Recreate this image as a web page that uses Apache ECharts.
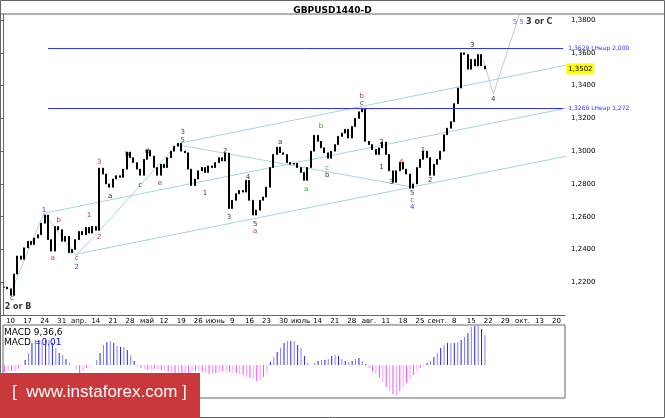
<!DOCTYPE html>
<html><head><meta charset="utf-8">
<script src="https://cdn.jsdelivr.net/npm/echarts@6/dist/echarts.min.js"></script>
<style>html,body{margin:0;padding:0;background:#fff}#c{width:665px;height:418px}</style>
</head><body><div id="c"></div>
<script>
// date labels, one per 5 trading days
var weekLabels = ['10','17','24','31','апр.','14','21','28','май','12','19','26','июнь','9','16','23','30','июль','14','21','28','авг.','11','18','25','сент.','8','15','22','29','окт.','13','20'];
// daily closes
var closes = [
  1.2170,1.2160,1.2120,1.2250,1.2360,1.2340,1.2410,1.2450,1.2430,1.2470,
  1.2490,1.2560,1.2610,1.2460,1.2390,1.2540,1.2520,1.2450,1.2480,1.2380,
  1.2400,1.2460,1.2510,1.2490,1.2535,1.2500,1.2540,1.2517,1.2896,1.2860,
  1.2800,1.2780,1.2830,1.2850,1.2840,1.2890,1.2994,1.2960,1.2930,1.2890,
  1.2853,1.2950,1.3006,1.2970,1.2900,1.2853,1.2920,1.2900,1.2960,1.3000,
  1.3030,1.3048,1.3000,1.2990,1.2890,1.2790,1.2830,1.2880,1.2900,1.2870,
  1.2910,1.2900,1.2930,1.2960,1.2940,1.2988,1.2650,1.2700,1.2740,1.2760,
  1.2750,1.2822,1.2700,1.2610,1.2640,1.2700,1.2720,1.2780,1.2900,1.2980,
  1.3024,1.2990,1.2980,1.2930,1.2920,1.2926,1.2900,1.2870,1.2822,1.2900,
  1.3000,1.3097,1.3060,1.3020,1.2990,1.2957,1.3000,1.3040,1.3090,1.3110,
  1.3133,1.3080,1.3150,1.3200,1.3240,1.3260,1.3060,1.3040,1.3010,1.2980,
  1.3020,1.3055,1.2980,1.2880,1.2810,1.2880,1.2932,1.2890,1.2860,1.2774,
  1.2800,1.2900,1.2950,1.3000,1.2960,1.2853,1.2920,1.2950,1.3000,1.3100,
  1.3140,1.3180,1.3290,1.3385,1.3600,1.3590,1.3500,1.3560,1.3520,1.3590,
  1.3520,1.3502
];
var macd = [
  -7,-7,-6,-6,-4,-1,
  5,12,22,25,25,25,25,25,22,17,12,10,6,2,0,
  -5,-8,-6,-3,-2,0,
  5,12,20,23,24,22,19,18,18,15,10,4,
  -2,-3,-4,-5,-5,-4,-4,-5,-6,-7,-8,-9,-10,-10,-9,-8,-7,-6,-6,-7,
  -8,-9,-9,-8,-7,-6,-6,-7,-8,-8,-9,-10,-12,-13,-14,-16,-15,-12,-8,
  3,8,13,17,22,24,24,24,20,17,9,2,0,
  2,4,5,5,6,9,10,9,6,4,3,4,6,7,4,1,
  -3,-6,-9,-13,-17,-22,-26,-29,-31,-26,-22,-18,-14,-10,-6,-3,-1,
  2,4,8,12,17,20,22,22,22,23,25,28,32,38,39,39,36,30
];
var priceTicks = [1.22,1.24,1.26,1.28,1.30,1.32,1.34,1.36,1.38];
var levels = [[1.3629,'1,3629 LHeap 2,000'],[1.3260,'1,3260 LHeap 1,272']];
// channel / wave lines as [index, price] pairs
var channelLines = [
  [[11.8,1.2621],[164.9,1.3262]],
  [[51.7,1.3049],[164.9,1.3525]],
  [[21.2,1.2371],[164.9,1.2969]],
  [[51.7,1.3036],[120,1.2780]]
];
var zigzag = [[2.7,1.2169],[11.8,1.2621],[21.2,1.2364],[28.2,1.2517],[51.1,1.3049]];
var forecast = [[140.6,1.3556],[143.5,1.3348],[151.1,1.3831]];
// wave labels [index, price, text, color]
var waves = [
  [2.4,1.2102,'c','#000'],[4.2,1.2047,'{b|2 or B}','#000'],
  [11.8,1.2639,'1','#0000ff'],[14.4,1.2346,'a','#a00'],[16.1,1.2578,'b','#a00'],
  [21.4,1.2346,'c','#a00'],[21.4,1.2291,'2','#0000ff'],[25,1.2609,'1','#a00'],
  [28,1.2474,'2','#a00'],[28,1.2933,'3','#a00'],[31.2,1.2725,'a','#000'],
  [36.2,1.2981,'b','#000'],[40,1.2792,'c','#000'],[42,1.3000,'d','#000'],
  [45.8,1.2804,'e','#a00'],[52.5,1.3116,'3','#000'],[52.5,1.3067,'5','#a00'],
  [59,1.2743,'1','#000'],[64.9,1.3000,'2','#000'],[66,1.2597,'3','#000'],
  [71.6,1.2841,'4','#000'],[73.7,1.2554,'5','#000'],[73.7,1.2511,'a','#a00'],
  [81,1.3055,'a','#000'],[88.6,1.2768,'a','#080'],[93,1.3152,'b','#080'],
  [94.8,1.2896,'c','#080'],[94.8,1.2853,'b','#000'],[104.9,1.3336,'b','#a00'],
  [104.9,1.3293,'c','#000'],[110.7,1.3055,'2','#000'],[110.7,1.2902,'1','#000'],
  [113.6,1.2810,'3','#000'],[116.5,1.2933,'4','#a00'],[119.7,1.2743,'5','#000'],
  [119.7,1.2700,'c','#a00'],[119.7,1.2658,'4','#0000ff'],[122.9,1.3006,'1','#000'],
  [125,1.2823,'2','#000'],[137.3,1.3647,'3','#000'],[143.5,1.3317,'4','#000'],
  [155,1.3788,'{s|5 5} {b|3 or C}','#000']
];

var N = 165;
var cats = [];
for (var i = 0; i < N; i++) cats.push(i >= 2 && (i - 2) % 5 === 0 ? weekLabels[(i - 2) / 5] : '');
var ohlc = closes.map(function (c, i) {
  var o = i ? closes[i - 1] : c;
  return [o, c, Math.min(o, c), Math.max(o, c)];
});
var last = closes[closes.length - 1];
var fmt = function (v) { return v.toFixed(4).replace('.', ','); };

var chart = echarts.init(document.getElementById('c'));
var lineSeries = channelLines.map(function (l) {
  return { type: 'line', xAxisIndex: 1, yAxisIndex: 0, data: l, symbol: 'none', silent: true,
    lineStyle: { color: '#a8d4e6', width: 1 }, z: 1 };
});
chart.setOption({
  animation: false,
  textStyle: { fontFamily: 'DejaVu Sans' },
  title: { text: 'GBPUSD1440-D', left: 'center', top: 1, textStyle: { fontSize: 9, fontWeight: 'bold', color: '#000' } },
  graphic: [
    { type: 'rect', shape: { x: 0.5, y: 0.5, width: 664, height: 417 }, style: { fill: 'none', stroke: '#666' } },
    { type: 'line', shape: { x1: 0, y1: 14, x2: 665, y2: 14 }, style: { stroke: '#666' } },
    { type: 'rect', shape: { x: 0, y: 373, width: 200, height: 45 }, style: { fill: '#c9393c' }, z: 10 },
    { type: 'text', left: 12, top: 384, z: 11, style: { text: '[  www.instaforex.com ]', fill: '#fff', font: '17px "Liberation Sans"' } },
    { type: 'text', left: 4, top: 328, style: { text: 'MACD 9,36,6', fill: '#000', font: '9px "DejaVu Sans"' } },
    { type: 'text', left: 4, top: 338, style: { rich: { a: { fill: '#000' }, b: { fill: '#0000ff' } }, text: '{a|MACD =}{b|0,01}', font: '9px "DejaVu Sans"' } }
  ],
  grid: [
    { left: 2, right: 100, top: 14, bottom: 103, show: false },
    { left: 3, right: 100, top: 325, bottom: 20, show: true, borderColor: '#666', backgroundColor: '#fff' }
  ],
  xAxis: [
    { type: 'category', gridIndex: 0, data: cats, boundaryGap: true,
      axisLine: { lineStyle: { color: '#666' } },
      axisTick: { interval: function (i) { return cats[i] !== ''; }, length: 4, lineStyle: { color: '#666' } },
      axisLabel: { interval: function (i) { return cats[i] !== ''; }, fontSize: 7, color: '#000', margin: 3 } },
    { type: 'value', gridIndex: 0, min: -0.5, max: N - 0.5, show: false },
    { type: 'category', gridIndex: 1, data: cats, show: false }
  ],
  yAxis: [
    { type: 'value', gridIndex: 0, position: 'right', min: 1.20, max: 1.3837, interval: 0.02,
      splitLine: { show: false }, axisLine: { show: true, lineStyle: { color: '#666' } },
      axisTick: { show: true, inside: true, length: 3 },
      axisLabel: { fontSize: 7, color: '#000', margin: 6, showMaxLabel: false, formatter: function (v) {
        return priceTicks.some(function (t) { return Math.abs(t - v) < 1e-6; }) ? fmt(v) : ''; } } },
    { type: 'value', gridIndex: 1, min: -33, max: 40, show: false }
  ],
  series: [
    { type: 'candlestick', xAxisIndex: 0, yAxisIndex: 0, data: ohlc, barWidth: 1.5, z: 3,
      itemStyle: { color: '#000', color0: '#000', borderColor: '#000', borderColor0: '#000', borderWidth: 1 },
      markLine: { symbol: 'none', silent: true, animation: false,
        label: { show: true, position: 'end', fontSize: 6, color: '#3333ff', formatter: '{b}' },
        data: levels.map(function (l) {
          return [{ name: l[1], coord: [13, l[0]] }, { coord: [N - 1, l[0]] }];
        }),
        lineStyle: { color: '#3333ff', type: 'solid', width: 1 } },
      markPoint: { symbol: 'rect', symbolSize: [28, 11], silent: true,
        data: [{ coord: [N - 1, last], symbolOffset: [17, 0], value: fmt(last) }],
        itemStyle: { color: '#ffff00' }, label: { color: '#000', fontSize: 7 } } }
  ].concat(lineSeries).concat([
    { type: 'line', xAxisIndex: 1, yAxisIndex: 0, data: zigzag, symbol: 'none', silent: true, lineStyle: { color: '#a8d4e6', width: 1 } },
    { type: 'line', xAxisIndex: 1, yAxisIndex: 0, data: forecast, symbol: 'none', silent: true, lineStyle: { color: '#c8c8c8', width: 1 } },
    { type: 'scatter', xAxisIndex: 1, yAxisIndex: 0, symbolSize: 0, silent: true, z: 5,
      data: waves.map(function (w) { return { value: [w[0], w[1]], label: { formatter: w[2], color: w[3] } }; }),
      label: { show: true, position: 'inside', fontSize: 7,
        rich: { b: { fontWeight: 'bold', fontSize: 8, color: '#000' }, s: { color: '#3333ff', fontSize: 7 } } } },
    { type: 'bar', xAxisIndex: 2, yAxisIndex: 1, barWidth: 1,
      data: macd.map(function (v, i) { return { value: v, itemStyle: { color: v >= 0 ? (i % 2 ? '#8080ff' : '#2020ff') : (i % 2 ? '#ff99ff' : '#ff44ff') } }; }) }
  ])
});
</script></body></html>
